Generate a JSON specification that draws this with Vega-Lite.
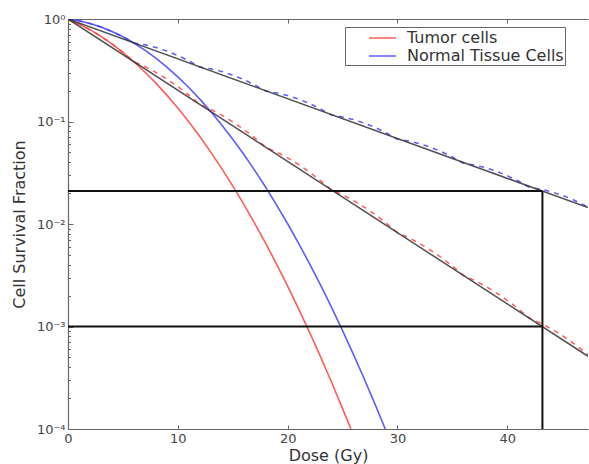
{
  "$schema": "https://vega.github.io/schema/vega-lite/v6.json",
  "width": 520,
  "height": 410,
  "autosize": {"type": "none"},
  "padding": {"left": 68, "top": 19, "right": 1, "bottom": 35},
  "background": "white",
  "config": {
    "font": "DejaVu Sans",
    "view": {"stroke": null},
    "axis": {
      "grid": false,
      "domainColor": "#666666",
      "domainWidth": 1.2,
      "tickColor": "#666666",
      "tickWidth": 1,
      "labelColor": "#444444",
      "labelFontSize": 13,
      "labelFont": "DejaVu Sans",
      "titleFont": "DejaVu Sans",
      "titleFontSize": 16,
      "titleFontWeight": "normal",
      "titleColor": "#333333",
      "labelFlush": false
    },
    "legend": {
      "orient": "none",
      "legendX": 277,
      "legendY": 8,
      "strokeColor": "#666666",
      "fillColor": "white",
      "padding": 1,
      "symbolType": "M-1.5,0H1.5",
      "symbolSize": 324,
      "symbolStrokeWidth": 1.5,
      "symbolOffset": 26.5,
      "labelOffset": 14.5,
      "labelFontSize": 16,
      "labelColor": "#333333",
      "labelFont": "DejaVu Sans",
      "rowPadding": 0,
      "cornerRadius": 0
    }
  },
  "datasets": {
    "lq": [
      {"D": 0, "S": 1, "series": "Tumor cells"},
      {"D": 1, "S": 0.8958, "series": "Tumor cells"},
      {"D": 2, "S": 0.7866, "series": "Tumor cells"},
      {"D": 3, "S": 0.6771, "series": "Tumor cells"},
      {"D": 4, "S": 0.5712, "series": "Tumor cells"},
      {"D": 5, "S": 0.4724, "series": "Tumor cells"},
      {"D": 6, "S": 0.3829, "series": "Tumor cells"},
      {"D": 7, "S": 0.3042, "series": "Tumor cells"},
      {"D": 8, "S": 0.2369, "series": "Tumor cells"},
      {"D": 9, "S": 0.1809, "series": "Tumor cells"},
      {"D": 10, "S": 0.1353, "series": "Tumor cells"},
      {"D": 11, "S": 0.09926, "series": "Tumor cells"},
      {"D": 12, "S": 0.07136, "series": "Tumor cells"},
      {"D": 13, "S": 0.05029, "series": "Tumor cells"},
      {"D": 14, "S": 0.03474, "series": "Tumor cells"},
      {"D": 15, "S": 0.02352, "series": "Tumor cells"},
      {"D": 16, "S": 0.01561, "series": "Tumor cells"},
      {"D": 17, "S": 0.01015, "series": "Tumor cells"},
      {"D": 18, "S": 0.006474, "series": "Tumor cells"},
      {"D": 19, "S": 0.004046, "series": "Tumor cells"},
      {"D": 20, "S": 0.002479, "series": "Tumor cells"},
      {"D": 21, "S": 0.001489, "series": "Tumor cells"},
      {"D": 22, "S": 0.000876, "series": "Tumor cells"},
      {"D": 23, "S": 0.000506, "series": "Tumor cells"},
      {"D": 24, "S": 0.000286, "series": "Tumor cells"},
      {"D": 25, "S": 0.000158, "series": "Tumor cells"},
      {"D": 25.76, "S": 0.0001, "series": "Tumor cells"},
      {"D": 0, "S": 1, "series": "Normal Tissue Cells"},
      {"D": 1, "S": 0.9608, "series": "Normal Tissue Cells"},
      {"D": 2, "S": 0.9048, "series": "Normal Tissue Cells"},
      {"D": 3, "S": 0.8353, "series": "Normal Tissue Cells"},
      {"D": 4, "S": 0.7558, "series": "Normal Tissue Cells"},
      {"D": 5, "S": 0.6703, "series": "Normal Tissue Cells"},
      {"D": 6, "S": 0.5827, "series": "Normal Tissue Cells"},
      {"D": 7, "S": 0.4966, "series": "Normal Tissue Cells"},
      {"D": 8, "S": 0.4148, "series": "Normal Tissue Cells"},
      {"D": 9, "S": 0.3396, "series": "Normal Tissue Cells"},
      {"D": 10, "S": 0.2725, "series": "Normal Tissue Cells"},
      {"D": 11, "S": 0.2144, "series": "Normal Tissue Cells"},
      {"D": 12, "S": 0.1653, "series": "Normal Tissue Cells"},
      {"D": 13, "S": 0.1249, "series": "Normal Tissue Cells"},
      {"D": 14, "S": 0.09255, "series": "Normal Tissue Cells"},
      {"D": 15, "S": 0.06721, "series": "Normal Tissue Cells"},
      {"D": 16, "S": 0.04783, "series": "Normal Tissue Cells"},
      {"D": 17, "S": 0.03337, "series": "Normal Tissue Cells"},
      {"D": 18, "S": 0.02282, "series": "Normal Tissue Cells"},
      {"D": 19, "S": 0.0153, "series": "Normal Tissue Cells"},
      {"D": 20, "S": 0.01005, "series": "Normal Tissue Cells"},
      {"D": 21, "S": 0.006474, "series": "Normal Tissue Cells"},
      {"D": 22, "S": 0.004087, "series": "Normal Tissue Cells"},
      {"D": 23, "S": 0.002529, "series": "Normal Tissue Cells"},
      {"D": 24, "S": 0.001534, "series": "Normal Tissue Cells"},
      {"D": 25, "S": 0.000912, "series": "Normal Tissue Cells"},
      {"D": 26, "S": 0.000531, "series": "Normal Tissue Cells"},
      {"D": 27, "S": 0.000304, "series": "Normal Tissue Cells"},
      {"D": 28, "S": 0.00017, "series": "Normal Tissue Cells"},
      {"D": 28.89, "S": 0.0001, "series": "Normal Tissue Cells"}
    ],
    "frac": [
      {"D": 0, "S": 1, "series": "Tumor cells"},
      {"D": 1, "S": 0.8958, "series": "Tumor cells"},
      {"D": 2, "S": 0.7866, "series": "Tumor cells"},
      {"D": 3, "S": 0.6771, "series": "Tumor cells"},
      {"D": 4, "S": 0.5712, "series": "Tumor cells"},
      {"D": 5, "S": 0.4724, "series": "Tumor cells"},
      {"D": 6, "S": 0.38289, "series": "Tumor cells"},
      {"D": 7, "S": 0.34299, "series": "Tumor cells"},
      {"D": 8, "S": 0.30118, "series": "Tumor cells"},
      {"D": 9, "S": 0.25926, "series": "Tumor cells"},
      {"D": 10, "S": 0.21871, "series": "Tumor cells"},
      {"D": 11, "S": 0.18088, "series": "Tumor cells"},
      {"D": 12, "S": 0.14661, "series": "Tumor cells"},
      {"D": 13, "S": 0.13133, "series": "Tumor cells"},
      {"D": 14, "S": 0.11532, "series": "Tumor cells"},
      {"D": 15, "S": 0.09927, "series": "Tumor cells"},
      {"D": 16, "S": 0.08374, "series": "Tumor cells"},
      {"D": 17, "S": 0.06926, "series": "Tumor cells"},
      {"D": 18, "S": 0.056135, "series": "Tumor cells"},
      {"D": 19, "S": 0.050286, "series": "Tumor cells"},
      {"D": 20, "S": 0.044156, "series": "Tumor cells"},
      {"D": 21, "S": 0.038009, "series": "Tumor cells"},
      {"D": 22, "S": 0.032064, "series": "Tumor cells"},
      {"D": 23, "S": 0.026518, "series": "Tumor cells"},
      {"D": 24, "S": 0.021494, "series": "Tumor cells"},
      {"D": 25, "S": 0.019254, "series": "Tumor cells"},
      {"D": 26, "S": 0.016907, "series": "Tumor cells"},
      {"D": 27, "S": 0.014554, "series": "Tumor cells"},
      {"D": 28, "S": 0.012277, "series": "Tumor cells"},
      {"D": 29, "S": 0.010154, "series": "Tumor cells"},
      {"D": 30, "S": 0.0082297, "series": "Tumor cells"},
      {"D": 31, "S": 0.0073722, "series": "Tumor cells"},
      {"D": 32, "S": 0.0064735, "series": "Tumor cells"},
      {"D": 33, "S": 0.0055723, "series": "Tumor cells"},
      {"D": 34, "S": 0.0047008, "series": "Tumor cells"},
      {"D": 35, "S": 0.0038877, "series": "Tumor cells"},
      {"D": 36, "S": 0.0031511, "series": "Tumor cells"},
      {"D": 37, "S": 0.0028228, "series": "Tumor cells"},
      {"D": 38, "S": 0.0024786, "series": "Tumor cells"},
      {"D": 39, "S": 0.0021336, "series": "Tumor cells"},
      {"D": 40, "S": 0.0017999, "series": "Tumor cells"},
      {"D": 41, "S": 0.0014886, "series": "Tumor cells"},
      {"D": 42, "S": 0.0012065, "series": "Tumor cells"},
      {"D": 43, "S": 0.0010808, "series": "Tumor cells"},
      {"D": 44, "S": 0.00094903, "series": "Tumor cells"},
      {"D": 45, "S": 0.00081692, "series": "Tumor cells"},
      {"D": 46, "S": 0.00068915, "series": "Tumor cells"},
      {"D": 47, "S": 0.00056995, "series": "Tumor cells"},
      {"D": 47.35, "S": 0.00053074, "series": "Tumor cells"},
      {"D": 0, "S": 1, "series": "Normal Tissue Cells"},
      {"D": 1, "S": 0.9608, "series": "Normal Tissue Cells"},
      {"D": 2, "S": 0.9048, "series": "Normal Tissue Cells"},
      {"D": 3, "S": 0.8353, "series": "Normal Tissue Cells"},
      {"D": 4, "S": 0.7558, "series": "Normal Tissue Cells"},
      {"D": 5, "S": 0.6703, "series": "Normal Tissue Cells"},
      {"D": 6, "S": 0.58275, "series": "Normal Tissue Cells"},
      {"D": 7, "S": 0.55991, "series": "Normal Tissue Cells"},
      {"D": 8, "S": 0.52727, "series": "Normal Tissue Cells"},
      {"D": 9, "S": 0.48677, "series": "Normal Tissue Cells"},
      {"D": 10, "S": 0.44044, "series": "Normal Tissue Cells"},
      {"D": 11, "S": 0.39062, "series": "Normal Tissue Cells"},
      {"D": 12, "S": 0.3396, "series": "Normal Tissue Cells"},
      {"D": 13, "S": 0.32629, "series": "Normal Tissue Cells"},
      {"D": 14, "S": 0.30727, "series": "Normal Tissue Cells"},
      {"D": 15, "S": 0.28367, "series": "Normal Tissue Cells"},
      {"D": 16, "S": 0.25667, "series": "Normal Tissue Cells"},
      {"D": 17, "S": 0.22763, "series": "Normal Tissue Cells"},
      {"D": 18, "S": 0.1979, "series": "Normal Tissue Cells"},
      {"D": 19, "S": 0.19014, "series": "Normal Tissue Cells"},
      {"D": 20, "S": 0.17906, "series": "Normal Tissue Cells"},
      {"D": 21, "S": 0.16531, "series": "Normal Tissue Cells"},
      {"D": 22, "S": 0.14957, "series": "Normal Tissue Cells"},
      {"D": 23, "S": 0.13265, "series": "Normal Tissue Cells"},
      {"D": 24, "S": 0.11533, "series": "Normal Tissue Cells"},
      {"D": 25, "S": 0.11081, "series": "Normal Tissue Cells"},
      {"D": 26, "S": 0.10435, "series": "Normal Tissue Cells"},
      {"D": 27, "S": 0.096335, "series": "Normal Tissue Cells"},
      {"D": 28, "S": 0.087166, "series": "Normal Tissue Cells"},
      {"D": 29, "S": 0.077306, "series": "Normal Tissue Cells"},
      {"D": 30, "S": 0.067206, "series": "Normal Tissue Cells"},
      {"D": 31, "S": 0.064572, "series": "Normal Tissue Cells"},
      {"D": 32, "S": 0.060808, "series": "Normal Tissue Cells"},
      {"D": 33, "S": 0.056137, "series": "Normal Tissue Cells"},
      {"D": 34, "S": 0.050794, "series": "Normal Tissue Cells"},
      {"D": 35, "S": 0.045048, "series": "Normal Tissue Cells"},
      {"D": 36, "S": 0.039164, "series": "Normal Tissue Cells"},
      {"D": 37, "S": 0.037629, "series": "Normal Tissue Cells"},
      {"D": 38, "S": 0.035436, "series": "Normal Tissue Cells"},
      {"D": 39, "S": 0.032714, "series": "Normal Tissue Cells"},
      {"D": 40, "S": 0.0296, "series": "Normal Tissue Cells"},
      {"D": 41, "S": 0.026252, "series": "Normal Tissue Cells"},
      {"D": 42, "S": 0.022823, "series": "Normal Tissue Cells"},
      {"D": 43, "S": 0.021928, "series": "Normal Tissue Cells"},
      {"D": 44, "S": 0.02065, "series": "Normal Tissue Cells"},
      {"D": 45, "S": 0.019064, "series": "Normal Tissue Cells"},
      {"D": 46, "S": 0.01725, "series": "Normal Tissue Cells"},
      {"D": 47, "S": 0.015298, "series": "Normal Tissue Cells"},
      {"D": 47.35, "S": 0.0146, "series": "Normal Tissue Cells"}
    ],
    "lin": [
      {"D": 0, "S": 1, "series": "Tumor cells"},
      {"D": 47.35, "S": 0.00051261, "series": "Tumor cells"},
      {"D": 0, "S": 1, "series": "Normal Tissue Cells"},
      {"D": 47.35, "S": 0.014446, "series": "Normal Tissue Cells"}
    ],
    "ref": [
      {"x1": 0, "x2": 43.2, "y1": 0.021, "y2": 0.021},
      {"x1": 0, "x2": 43.2, "y1": 0.001, "y2": 0.001},
      {"x1": 43.2, "x2": 43.2, "y1": 0.0001, "y2": 0.021}
    ]
  },
  "resolve": {"axis": {"x": "independent", "y": "independent"}},
  "layer": [
    {
      "data": {"name": "lq"},
      "mark": {"type": "line", "strokeWidth": 1.6, "opacity": 0.85, "clip": true},
      "encoding": {
        "x": {
          "field": "D", "type": "quantitative",
          "scale": {"domain": [0, 47.35], "nice": false, "zero": false},
          "axis": {"orient": "bottom", "values": [0, 10, 20, 30, 40], "tickSize": -4, "labelPadding": 7, "title": "Dose (Gy)", "titlePadding": 2}
        },
        "y": {
          "field": "S", "type": "quantitative",
          "scale": {"type": "log", "domain": [0.0001, 1], "nice": false},
          "axis": {
            "orient": "left",
            "values": [0.0001, 0.001, 0.01, 0.1, 1],
            "tickSize": -5,
            "labelPadding": 8,
            "labelExpr": "datum.value >= 0.5 ? '10⁰' : datum.value > 0.05 ? '10⁻¹' : datum.value > 0.005 ? '10⁻²' : datum.value > 0.0005 ? '10⁻³' : '10⁻⁴'",
            "title": "Cell Survival Fraction",
            "titlePadding": 9
          }
        },
        "color": {
          "field": "series", "type": "nominal",
          "scale": {"domain": ["Tumor cells", "Normal Tissue Cells"], "range": ["#ff4040", "#4040ff"]},
          "legend": {"title": null}
        }
      }
    },
    {
      "data": {"name": "frac"},
      "mark": {"type": "line", "strokeWidth": 1.5, "strokeDash": [5, 5], "opacity": 0.85, "clip": true},
      "encoding": {
        "x": {
          "field": "D", "type": "quantitative",
          "axis": {"orient": "top", "values": [0, 10, 20, 30, 40], "tickSize": -4, "labels": false, "title": null}
        },
        "y": {
          "field": "S", "type": "quantitative",
          "axis": {
            "orient": "left",
            "values": [0.0002, 0.0003, 0.0004, 0.0005, 0.0006, 0.0007, 0.0008, 0.0009, 0.002, 0.003, 0.004, 0.005, 0.006, 0.007, 0.008, 0.009, 0.02, 0.03, 0.04, 0.05, 0.06, 0.07, 0.08, 0.09, 0.2, 0.3, 0.4, 0.5, 0.6, 0.7, 0.8, 0.9],
            "tickSize": -2.5,
            "labels": false,
            "domain": false,
            "title": null
          }
        },
        "color": {"field": "series", "type": "nominal", "legend": null}
      }
    },
    {
      "data": {"name": "lin"},
      "mark": {"type": "line", "strokeWidth": 1.5, "color": "#333333", "opacity": 0.85, "clip": true},
      "encoding": {
        "x": {"field": "D", "type": "quantitative", "axis": null},
        "y": {"field": "S", "type": "quantitative", "axis": null},
        "detail": {"field": "series"}
      }
    },
    {
      "data": {"name": "ref"},
      "mark": {"type": "rule", "strokeWidth": 2, "color": "#111111"},
      "encoding": {
        "x": {"field": "x1", "type": "quantitative", "axis": null},
        "x2": {"field": "x2"},
        "y": {"field": "y1", "type": "quantitative", "axis": null},
        "y2": {"field": "y2"}
      }
    }
  ]
}
